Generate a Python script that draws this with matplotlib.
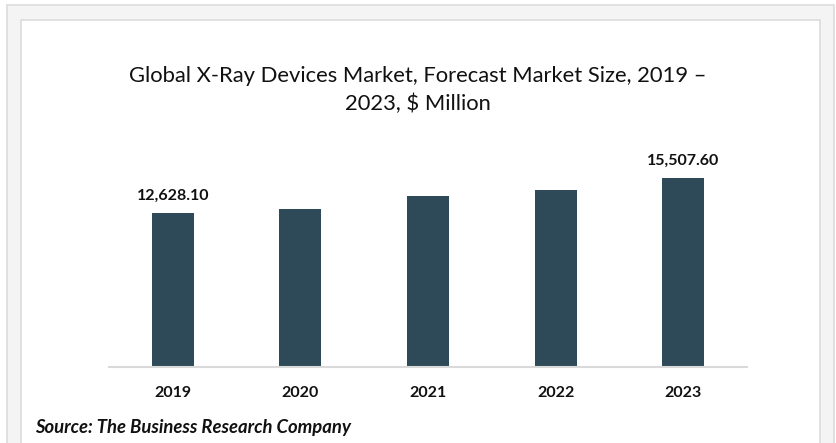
import matplotlib.pyplot as plt
from matplotlib.patches import Rectangle

# Global X-Ray devices market forecast, $ million
years = ["2019", "2020", "2021", "2022", "2023"]
values = [12628.10, 12985.0, 14000.0, 14490.0, 15507.60]
labelled = [0, 4]   # only first and last bars carry a value label

W, H = 836, 443
plt.rcParams['font.family'] = ['Lato', 'DejaVu Sans']

fig = plt.figure(figsize=(W / 100, H / 100), dpi=100)
fig.patch.set_facecolor('white')

def px_rect(x0, y0, x1, y1, **kw):
    # rectangle given in image pixels (y from top), kept behind the axes
    fig.patches.append(Rectangle((x0 / W, 1 - y1 / H), (x1 - x0) / W, (y1 - y0) / H,
                                 transform=fig.transFigure, zorder=-10, **kw))

# page frame: light gray band with thin borders, white inner box
px_rect(7, 5, 834, 460, facecolor='#f4f4f4', edgecolor='#dcdcdc', lw=1.2)
px_rect(21, 20, 820, 460, facecolor='white', edgecolor='#dcdcdc', lw=1.2)

ax = fig.add_axes([109 / W, (H - 367) / H, 638 / W, 226.8 / H])
ax.patch.set_alpha(0)
x = range(len(years))
ax.bar(x, values, width=0.33, color='#2e4a59', zorder=2)
ax.set_xlim(-0.5, len(years) - 0.5)
ax.set_ylim(0, 18600)

for i in labelled:
    ax.annotate(f"{values[i]:,.2f}", (i, values[i]), xytext=(0, 7),
                textcoords='offset points', ha='center', va='bottom',
                fontsize=11.5, fontweight='bold', color='#111111')

ax.set_xticks(list(x))
ax.set_xticklabels(years, fontsize=11.5, fontweight='bold', color='#111111')
ax.tick_params(axis='x', length=0, pad=14)
ax.set_yticks([])
for s in ['top', 'right', 'left']:
    ax.spines[s].set_visible(False)
ax.spines['bottom'].set_color('#d9d9d9')
ax.spines['bottom'].set_linewidth(1.5)

fig.text(0.5, 1 - 76 / H, "Global X-Ray Devices Market, Forecast Market Size, 2019 \u2013",
         ha='center', va='center', fontsize=15.8, color='#111111')
fig.text(0.5, 1 - 104 / H, "2023, $ Million",
         ha='center', va='center', fontsize=15.8, color='#111111')
fig.text(35 / W, 1 - 428 / H, "Source: The Business Research Company",
         ha='left', va='center', fontsize=13.3, fontweight='bold', style='italic',
         color='#111111')

fig.savefig('out.png', dpi=100, facecolor='white')
